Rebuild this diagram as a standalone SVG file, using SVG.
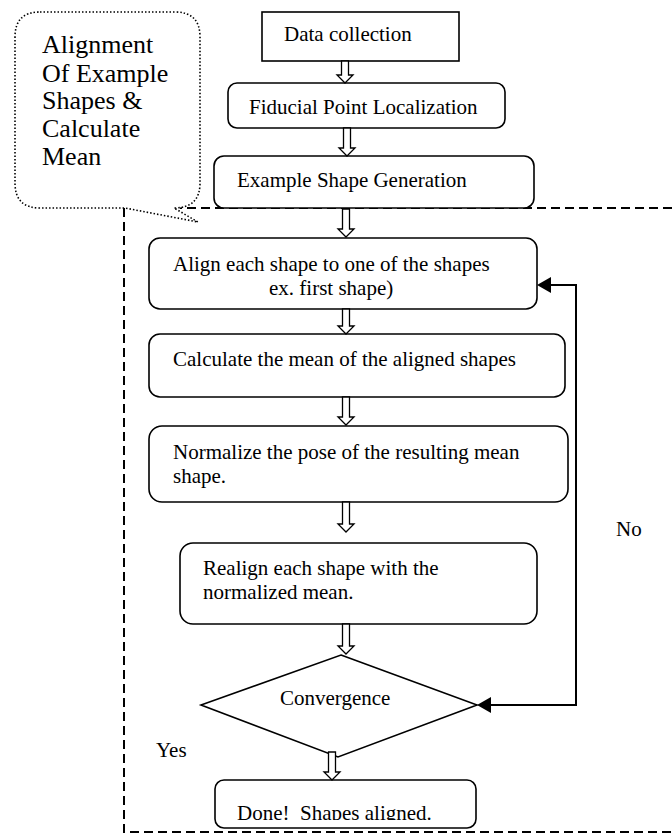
<svg xmlns="http://www.w3.org/2000/svg" width="672" height="834" viewBox="0 0 672 834">
<defs>
<style>
.box{fill:#fff;stroke:#000;stroke-width:1.6}
.t{font-family:"Liberation Serif","Times New Roman",serif;font-size:21px;fill:#000}
.ct{font-family:"Liberation Serif","Times New Roman",serif;font-size:26px;fill:#000}
.harrow{fill:#fff;stroke:#000;stroke-width:1.3;stroke-linejoin:miter}
.dash{fill:none;stroke:#000;stroke-width:2;stroke-dasharray:9 5}
.line{fill:none;stroke:#000;stroke-width:2}
</style>
<clipPath id="doneClip"><rect x="215" y="780" width="262" height="40"/></clipPath>
</defs>
<rect width="672" height="834" fill="#fff"/>

<g id="region">
<path class="dash" d="M672 208 H180"/>
<path class="dash" d="M124 208 V832 H672"/>
</g>

<g id="callout">
<path d="M40 12 H175 Q200 12 200 37 V183 Q200 208 174 208 L198 222 L125 208 H40 Q15 208 15 183 V37 Q15 12 40 12 Z" fill="#fff" stroke="#000" stroke-width="1.6" stroke-dasharray="1.5 2"/>
<text class="ct" x="42" y="53">Alignment</text>
<text class="ct" x="42" y="82">Of Example</text>
<text class="ct" x="42" y="109">Shapes &amp;</text>
<text class="ct" x="42" y="137">Calculate</text>
<text class="ct" x="42" y="165">Mean</text>
</g>

<g id="n1">
<rect class="box" x="262" y="12" width="197" height="49"/>
<text class="t" x="284" y="41">Data collection</text>
</g>
<g id="n2">
<rect class="box" x="228" y="83" width="277" height="45" rx="9"/>
<text class="t" x="249" y="114">Fiducial Point Localization</text>
</g>
<g id="n3">
<rect class="box" x="214" y="156" width="320" height="52" rx="10"/>
<text class="t" x="237" y="187">Example Shape Generation</text>
</g>
<g id="n4">
<rect class="box" x="149" y="238" width="388" height="71" rx="11"/>
<text class="t" x="173" y="271">Align each shape to one of the shapes</text>
<text class="t" x="269" y="295">ex. first shape)</text>
</g>
<g id="n5">
<rect class="box" x="149" y="334" width="416" height="63" rx="11"/>
<text class="t" x="173" y="366">Calculate the mean of the aligned shapes</text>
</g>
<g id="n6">
<rect class="box" x="149" y="426" width="419" height="76" rx="13"/>
<text class="t" x="173" y="459">Normalize the pose of the resulting mean</text>
<text class="t" x="173" y="483">shape.</text>
</g>
<g id="n7">
<rect class="box" x="180" y="543" width="357" height="81" rx="13"/>
<text class="t" x="203" y="575">Realign each shape with the</text>
<text class="t" x="203" y="599">normalized mean.</text>
</g>
<g id="n8">
<polygon class="box" points="341,655 477,705 338,757 201,705"/>
<text class="t" x="280" y="705">Convergence</text>
</g>
<g id="n9">
<rect class="box" x="215" y="780" width="261" height="48" rx="9"/>
<text class="t" x="237" y="820" clip-path="url(#doneClip)" xml:space="preserve" style="white-space:pre">Done!  Shapes aligned.</text>
</g>

<g id="labels">
<text class="t" x="616" y="536">No</text>
<text class="t" x="156" y="757">Yes</text>
</g>

<g id="connectors">
<path class="harrow" d="M341.5 61 V75 H337 L345 83 L353 75 H348.5 V61 Z"/>
<path class="harrow" d="M343.5 128 V148 H339 L347 156 L355 148 H350.5 V128 Z"/>
<path class="harrow" d="M342.5 209 V229 H338 L346 237 L354 229 H349.5 V209 Z"/>
<path class="harrow" d="M342.5 309 V326 H338 L346 334 L354 326 H349.5 V309 Z"/>
<path class="harrow" d="M342.5 397 V417 H338 L346 425 L354 417 H349.5 V397 Z"/>
<path class="harrow" d="M342.5 502 V524 H338 L346 532 L354 524 H349.5 V502 Z"/>
<path class="harrow" d="M342.5 624 V646 H338 L346 654 L354 646 H349.5 V624 Z"/>
<path class="harrow" d="M328.5 752 V772 H324 L332 780 L340 772 H335.5 V752 Z"/>
<path class="line" d="M549 285 H576 V705 H489"/>
<polygon points="537,285 551,277 551,293" fill="#000"/>
<polygon points="477,705 491,697 491,713" fill="#000"/>
</g>
</svg>
